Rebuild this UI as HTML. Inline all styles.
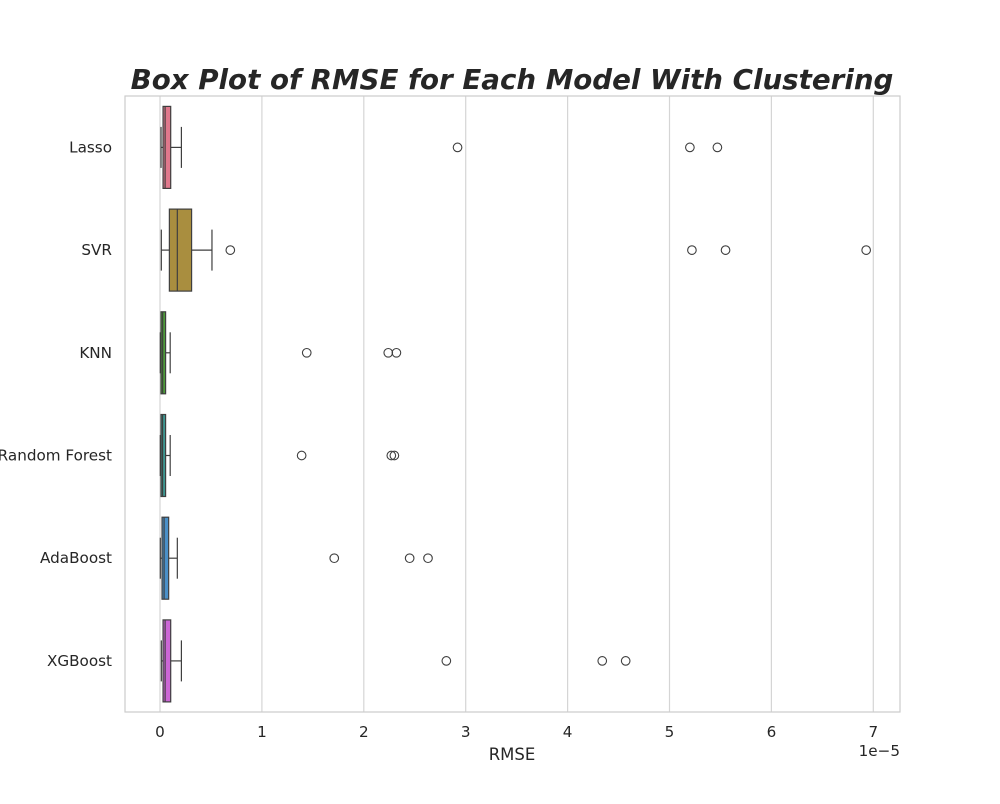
<!DOCTYPE html>
<html><head><meta charset="utf-8"><style>
body{margin:0;background:#fff;font-family:"DejaVu Sans","Liberation Sans",sans-serif}
svg text{font-family:"DejaVu Sans","Liberation Sans",sans-serif}
</style></head><body>
<svg id="chart" width="1000" height="800" xmlns="http://www.w3.org/2000/svg">
<rect width="1000" height="800" fill="#fff"/>
<text x="512" y="89" text-anchor="middle" font-size="27.7" font-weight="bold" font-style="italic" fill="#262626">Box Plot of RMSE for Each Model With Clustering</text>
<g id="grid"></g>
<g id="boxes"></g>
<rect x="125" y="96" width="775" height="616" fill="none" stroke="#ccc" stroke-width="1.2"/>
<text x="512" y="760" text-anchor="middle" font-size="16.5" fill="#262626">RMSE</text>
<text x="900" y="756" text-anchor="end" font-size="15.2" fill="#262626">1e−5</text>
</svg>
<script>
const models=["Lasso","SVR","KNN","Random Forest","AdaBoost","XGBoost"];
const whiskerLo=[0.01,0.013,0.003,0.003,0.003,0.013];
const q1=[0.03,0.092,0.01,0.01,0.02,0.03];
const medians=[0.05,0.17,0.026,0.025,0.04,0.05];
const q3=[0.105,0.31,0.055,0.055,0.085,0.105];
const whiskerHi=[0.21,0.51,0.10,0.10,0.17,0.21];
const outliers=[[2.92,5.2,5.47],[0.69,5.22,5.55,6.93],[1.44,2.24,2.32],[1.39,2.27,2.30],[1.71,2.45,2.63],[2.81,4.34,4.57]];
const colors=["#e0788c","#a98e3f","#4d9a3a","#3d9690","#4a90c8","#cc66d6"];
const xTicks=[0,1,2,3,4,5,6,7];
const NS="http://www.w3.org/2000/svg";
const x=v=>160+v*101.9;
const y=i=>147.4+i*102.7;
function mk(tag,attrs,parent){const e=document.createElementNS(NS,tag);for(const k in attrs)e.setAttribute(k,attrs[k]);parent.appendChild(e);return e;}
const svg=document.getElementById('chart'),grid=document.getElementById('grid'),boxes=document.getElementById('boxes');
xTicks.forEach(t=>{
  const l=mk('line',{x1:x(t),x2:x(t),y1:96,y2:712,stroke:'#d5d5d5','stroke-width':1.2},grid);
  
  
  const tx=mk('text',{x:x(t),y:737,'text-anchor':'middle','font-size':15.2,fill:'#262626'},svg);
  tx.textContent=t;
  
  
});
models.forEach((m,i)=>{
  const cy=y(i),h=41,c=20.5,st='#3f3f3f';
  const g=mk('g',{},boxes);
  
  
  mk('line',{x1:x(whiskerLo[i]),x2:x(q1[i]),y1:cy,y2:cy,stroke:st,'stroke-width':1.2},g);
  mk('line',{x1:x(q3[i]),x2:x(whiskerHi[i]),y1:cy,y2:cy,stroke:st,'stroke-width':1.2},g);
  mk('line',{x1:x(whiskerLo[i]),x2:x(whiskerLo[i]),y1:cy-c,y2:cy+c,stroke:st,'stroke-width':1.2},g);
  mk('line',{x1:x(whiskerHi[i]),x2:x(whiskerHi[i]),y1:cy-c,y2:cy+c,stroke:st,'stroke-width':1.2},g);
  mk('rect',{x:x(q1[i]),y:cy-h,width:x(q3[i])-x(q1[i]),height:2*h,fill:colors[i],stroke:st,'stroke-width':1.2},g);
  mk('line',{x1:x(medians[i]),x2:x(medians[i]),y1:cy-h,y2:cy+h,stroke:st,'stroke-width':1.2},g);
  outliers[i].forEach(o=>{
    const p=mk('circle',{cx:x(o),cy:cy,r:4.3,fill:'none',stroke:st,'stroke-width':1.1},g);
    
    
  });
  const lb=mk('text',{x:112,y:cy+5,'text-anchor':'end','font-size':15.2,fill:'#262626'},svg);
  lb.textContent=m;
  
  
});
</script>
</body></html>
